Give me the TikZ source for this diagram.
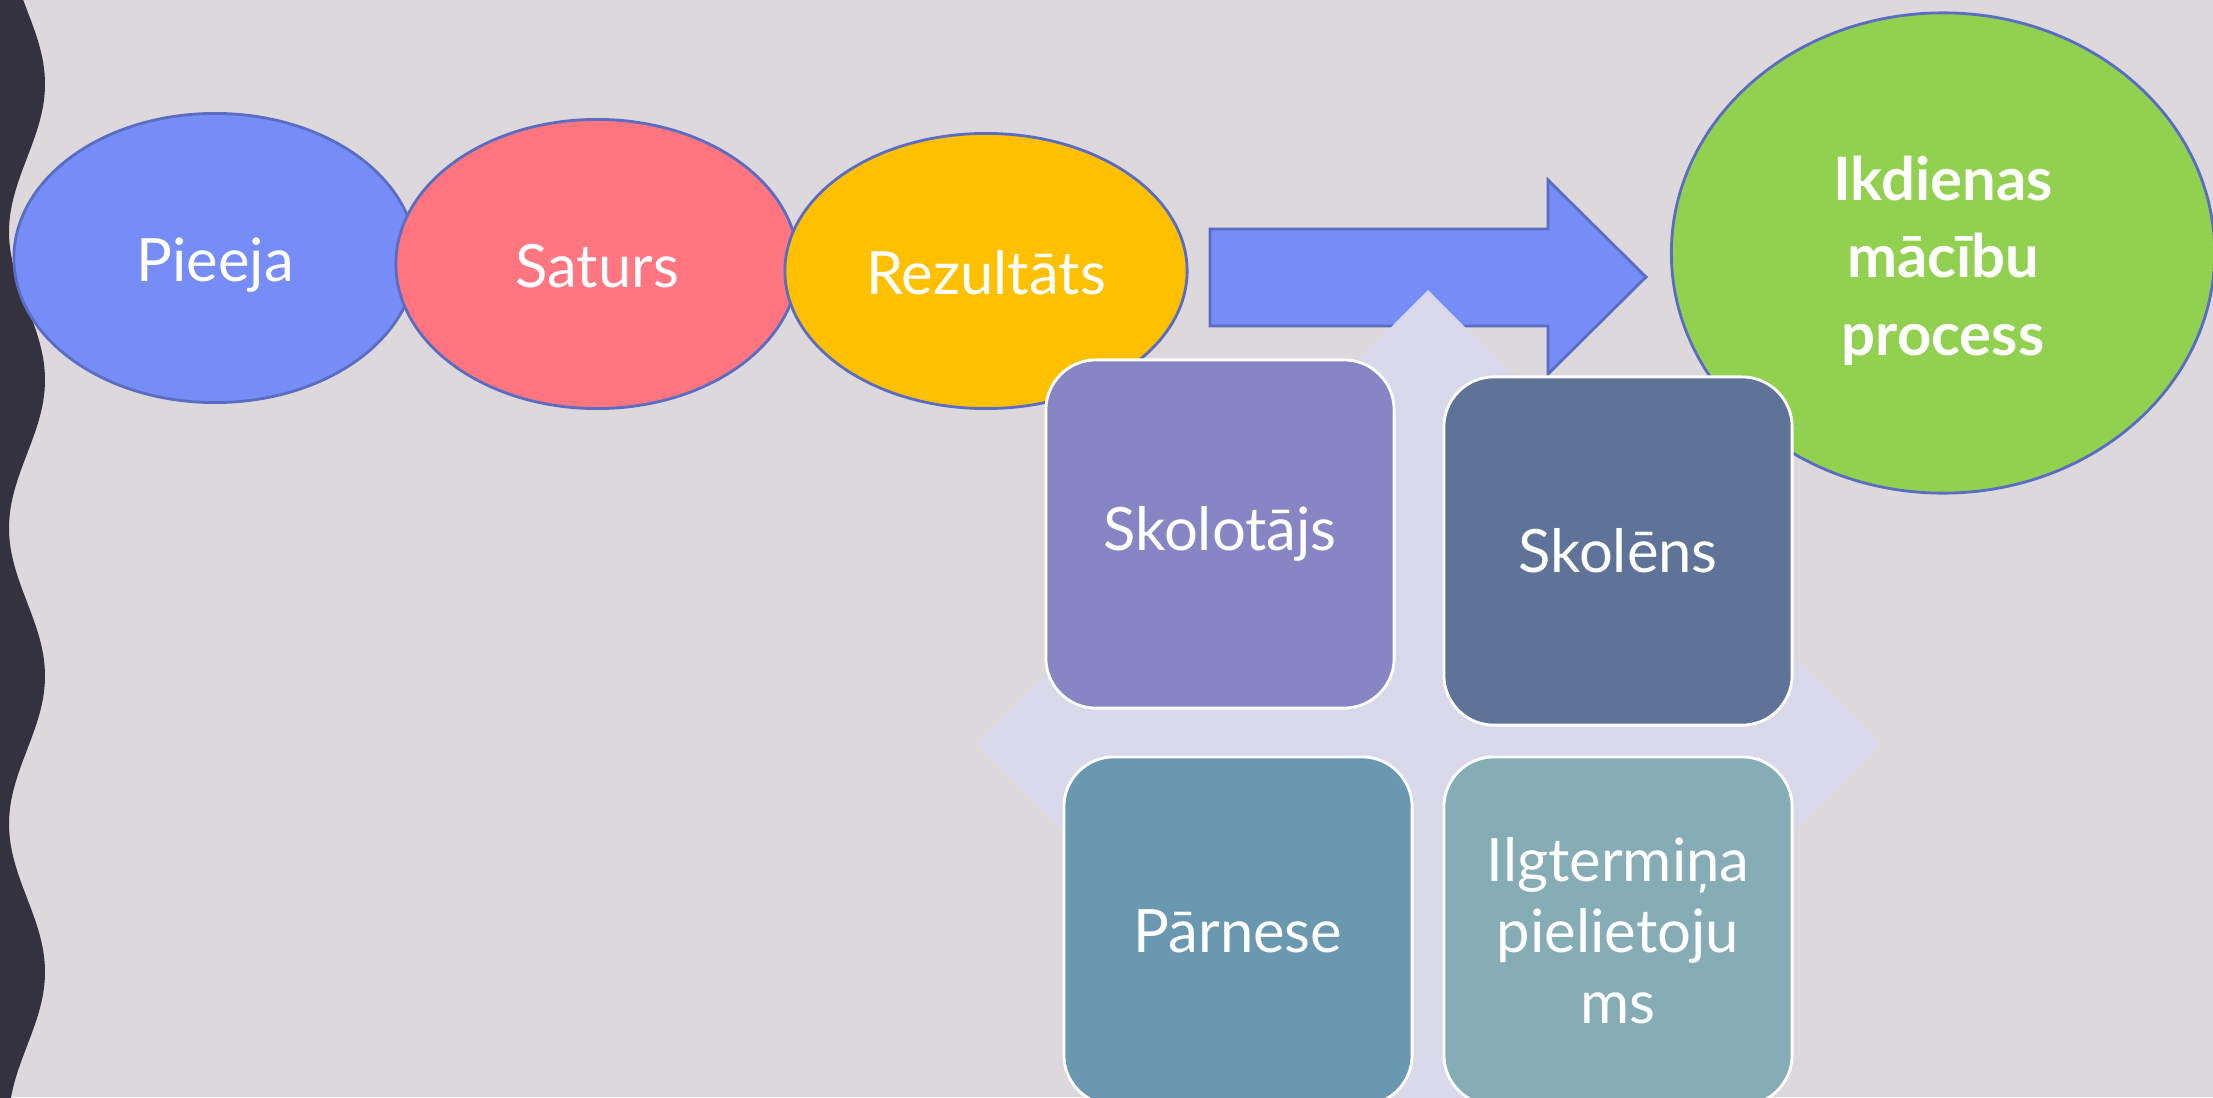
\documentclass[tikz,border=0pt]{standalone}
\usepackage{fontspec}
\setmainfont{Lato}
\usetikzlibrary{shapes.geometric}
\definecolor{bgcol}{HTML}{DCD8DC}
\definecolor{wavecol}{HTML}{35323F}
\definecolor{ovalline}{HTML}{5A6DC2}
\definecolor{bluecol}{HTML}{768CF7}
\definecolor{redcol}{HTML}{FF7580}
\definecolor{goldcol}{HTML}{FFC000}
\definecolor{greencol}{HTML}{92D050}
\definecolor{diamcol}{HTML}{D9D9EB}
\definecolor{tileA}{HTML}{8785C3}
\definecolor{tileB}{HTML}{5F7399}
\definecolor{tileC}{HTML}{6A98B0}
\definecolor{tileD}{HTML}{86ADB6}
\begin{document}
\begin{tikzpicture}
    [x=0.01cm, y=-0.01cm,
    oval/.style={ellipse, draw=ovalline, line width=0.8pt, text=white, inner sep=0pt,
      minimum width=4.02cm, minimum height=2.89cm, font=\fontsize{17}{21}\selectfont},
    step oval/.style={oval, text height=17pt, text depth=3.4pt},
    tile/.style={rectangle, rounded corners=0.5cm, draw=white, line width=0.8pt, text=white,
      minimum width=3.48cm, minimum height=3.48cm, align=center,
      font=\fontsize{17}{20.2}\selectfont}]
    \useasboundingbox (0,0) rectangle (2213,1097);
    \fill[bgcol] (0,0) rectangle (2213,1097);
    \clip (0,0) rectangle (2213,1097);
    % wavy band on the left
    \fill[wavecol] (0,-10) -- plot[domain=-10:1110, samples=200]
      ({27+18*cos(1.21622*(\x-84))}, \x) -- (0,1110) -- cycle;
    % top row
    \node[step oval, fill=bluecol] (pieeja) at (215,258) {Pieeja};
    \node[step oval, fill=redcol] (saturs) at (597,264) {Saturs};
    \node[step oval, fill=goldcol, minimum height=2.75cm] (rezultats) at (986,271) {Rezultāts};
    \draw[ovalline, fill=bluecol, line width=0.8pt] (1210,229) -- (1548,229) -- (1548,180)
      -- (1646,277) -- (1548,374) -- (1548,326) -- (1210,326) -- cycle;
    \node[oval, fill=greencol, minimum width=5.43cm, minimum height=4.8cm, align=center,
      font=\fontsize{17}{22}\selectfont\bfseries] (ikdienas) at (1943,253)
      {\rule{0pt}{17pt}Ikdienas\\mācību\\process};
    % matrix
    \fill[diamcol] (1428,290) -- (1880,744) -- (1428,1198) -- (977,744) -- cycle;
    \node[tile, fill=tileA] (skolotajs) at (1220,534) {Skolotājs};
    \node[tile, fill=tileB] (skolens) at (1618,551) {Skolēns};
    \node[tile, fill=tileC] (parnese) at (1238,931) {Pārnese};
    \node[tile, fill=tileD] (ilgtermina) at (1618,931) {Ilgtermiņa\\pielietoju\\ms};
\end{tikzpicture}
\end{document}
